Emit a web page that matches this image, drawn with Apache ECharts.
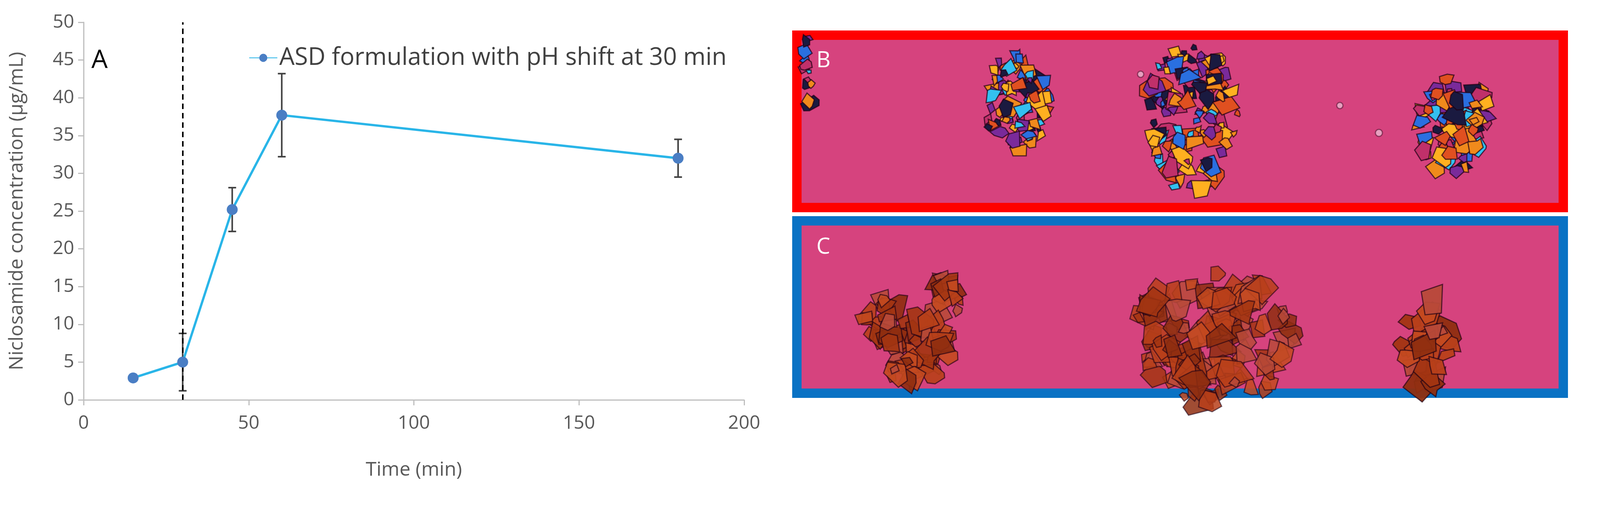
<!DOCTYPE html>
<html><head><meta charset="utf-8">
<script src="https://cdn.jsdelivr.net/npm/echarts@6/dist/echarts.min.js"></script>
<style>html,body{margin:0;padding:0;background:#fff}#c{width:4220px;height:1292px}</style>
</head><body><div id="c"></div>
<script>
var times = [15, 30, 45, 60, 180];
var conc = [2.9, 5.0, 25.2, 37.7, 32.0];
var errs = [0.3, 3.8, 2.9, 5.5, 2.5];
var xTicks = [0, 50, 100, 150, 200];
var yTicks = [0, 5, 10, 15, 20, 25, 30, 35, 40, 45, 50];
var seriesName = 'ASD formulation with pH shift at 30 min';
var shiftTime = 30;

var chart = echarts.init(document.getElementById('c'));
var font = 'Open Sans';
function blob(cx, cy, r, color) {
  return {type:'circle', shape:{cx:cx, cy:cy, r:r}, style:{fill:color, stroke:'rgba(60,0,30,0.5)', lineWidth:3}};
}
function cluster(cx, cy, w, h, colors, n, seed, rmin, rvar, op) {
  var out = [];
  var s = seed;
  function rnd(){ s = (s*9301+49297)%233280; return s/233280; }
  for (var i=0;i<n;i++){
    var a0 = rnd()*Math.PI*2, d = Math.sqrt(rnd())*0.5;
    var x = cx + Math.cos(a0)*d*w, y = cy + Math.sin(a0)*d*h;
    var pts = [];
    var k = 4 + Math.floor(rnd()*3), rr = rmin + rnd()*rvar;
    for (var j=0;j<k;j++){ var a = j/k*Math.PI*2 + rnd(); var q = rr*(0.6+rnd()*0.6); pts.push([x+Math.cos(a)*q, y+Math.sin(a)*q]); }
    out.push({type:'polygon', shape:{points:pts}, style:{fill:colors[Math.floor(rnd()*colors.length)], opacity:op, stroke:'rgba(30,0,20,0.7)', lineWidth:3}});
  }
  return out;
}
var bright = ['#f08a1c','#ffb020','#2a6fe0','#33c0f0','#c0306a','#7a2a9a','#e05020','#1a1a40'];
var brown = ['#b8401a','#a33512','#c44a20','#8f2e10','#b84a3a'];
var graphics = [
  {type:'rect', shape:{x:2040,y:90,width:1962,height:441}, style:{fill:'#d6437e', stroke:'#ff0000', lineWidth:24}},
  {type:'rect', shape:{x:2040,y:565,width:1962,height:441}, style:{fill:'#d6437e', stroke:'#0a72c4', lineWidth:24}}
];
graphics = graphics.concat(
  cluster(2070,180,40,180,bright,12,3,8,20,1),
  cluster(2600,270,170,270,bright,80,7,8,22,1),
  cluster(3050,300,240,380,bright,120,11,8,24,1),
  cluster(3720,320,190,250,bright,70,19,10,26,1),
  cluster(2270,820,110,150,brown,25,23,14,30,0.9),
  cluster(2420,760,90,110,brown,15,29,14,30,0.9),
  cluster(2380,880,110,160,brown,25,31,14,30,0.9),
  cluster(2310,960,80,100,brown,12,37,12,24,0.9),
  cluster(3110,870,420,340,brown,120,41,14,34,0.85),
  cluster(3650,880,120,220,brown,30,43,16,36,0.95),
  [blob(2920,190,8,'#e8a0c0'), blob(3430,270,8,'#e8a0c0'), blob(3530,340,9,'#e8a0c0')]
);
graphics.push({type:'text', left:2090, top:128, style:{text:'B', fill:'#fff', font:'56px "Open Sans"'}});
graphics.push({type:'text', left:2090, top:605, style:{text:'C', fill:'#fff', font:'56px "Open Sans"'}});
graphics.push({type:'text', left:234, top:122, style:{text:'A', fill:'#000', font:'66px "Open Sans"'}});

chart.setOption({
  animation:false,
  textStyle:{fontFamily:font},
  graphic: graphics,
  legend:{data:[{name:seriesName}], left:632, top:112, itemWidth:72, itemHeight:26, itemGap:6,
    textStyle:{fontSize:62, color:'#404040', fontFamily:font}},
  grid:{left:214, right:4220-1905, top:57, bottom:1292-1023, containLabel:false},
  xAxis:{type:'value', min:0, max:200, interval:50, name:'Time (min)', nameLocation:'middle', nameGap:155,
    nameTextStyle:{fontSize:50, color:'#595959'},
    axisLine:{lineStyle:{color:'#bfbfbf', width:3}}, axisTick:{show:true, length:14, lineStyle:{color:'#bfbfbf', width:3}},
    axisLabel:{fontSize:48, color:'#595959', margin:36}, splitLine:{show:false}},
  yAxis:{type:'value', min:0, max:50, interval:5, name:'Niclosamide concentration (µg/mL)', nameLocation:'middle', nameGap:145,
    nameTextStyle:{fontSize:50, color:'#595959'},
    axisLine:{show:true, lineStyle:{color:'#bfbfbf', width:3}}, axisTick:{show:true, length:14, lineStyle:{color:'#bfbfbf', width:3}},
    axisLabel:{fontSize:48, color:'#595959', margin:24}, splitLine:{show:false}},
  series:[
    {name:seriesName, type:'line', data:times.map(function(t,i){return [t,conc[i]];}),
      symbol:'circle', symbolSize:28, lineStyle:{color:'#29b5e8', width:6},
      itemStyle:{color:'#4a7ec4'}, z:5,
      markLine:{silent:true, symbol:'none', label:{show:false},
        lineStyle:{type:[14,10], color:'#000', width:4},
        data:[[{coord:[shiftTime,0]},{coord:[shiftTime,50]}]]}},
    {type:'custom', z:4, data:times.map(function(t,i){return [t, conc[i]-errs[i], conc[i]+errs[i]];}),
      renderItem:function(params, api){
        var lo = api.coord([api.value(0), api.value(1)]);
        var hi = api.coord([api.value(0), api.value(2)]);
        var w = 10, st = {stroke:'#404040', lineWidth:4};
        return {type:'group', children:[
          {type:'line', shape:{x1:lo[0],y1:lo[1],x2:hi[0],y2:hi[1]}, style:st},
          {type:'line', shape:{x1:lo[0]-w,y1:lo[1],x2:lo[0]+w,y2:lo[1]}, style:st},
          {type:'line', shape:{x1:hi[0]-w,y1:hi[1],x2:hi[0]+w,y2:hi[1]}, style:st}
        ]};
      }}
  ]
});
</script></body></html>
